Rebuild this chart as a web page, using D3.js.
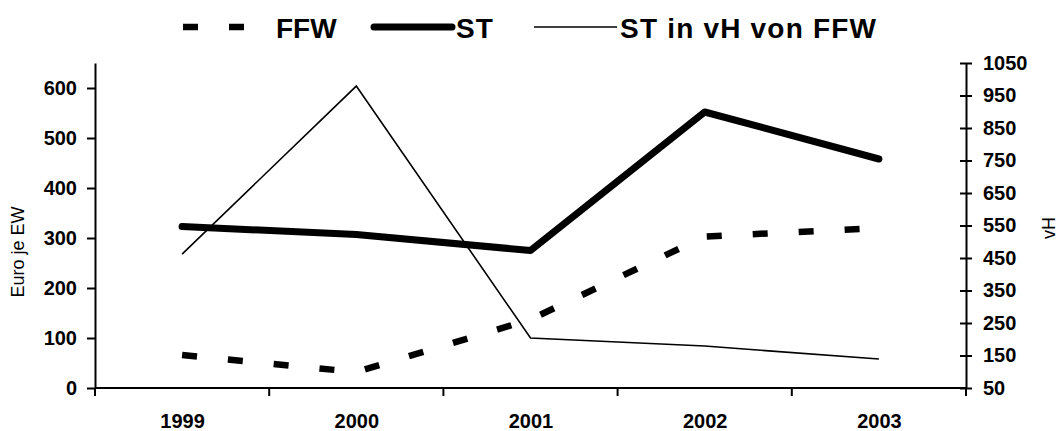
<!DOCTYPE html>
<html>
<head>
    <meta charset="utf-8">
    <title>FFW / ST</title>
    <script src="https://d3js.org/d3.v7.min.js"></script>
    <style>
        body { margin: 0; background: #fff; }
        svg text { font-family: "Liberation Sans", Arial, sans-serif; }
    </style>
</head>
<body>
    <script>
        // data
        const years = ["1999", "2000", "2001", "2002", "2003"];
        const ffw = [66, 32, 137, 303, 320];        // Euro je EW
        const st = [323, 307, 275, 552, 458];       // Euro je EW
        const stInVh = [462, 979, 204, 179, 139];   // vH (right axis)
        const leftTicks = [0, 100, 200, 300, 400, 500, 600];
        const rightTicks = [50, 150, 250, 350, 450, 550, 650, 750, 850, 950, 1050];

        const width = 1060, height = 431;
        const plotLeft = 95, plotRight = 966, plotTop = 63, plotBottom = 388;

        const svg = d3.select("body").append("svg")
            .attr("width", width)
            .attr("height", height);

        const x = d3.scaleBand().domain(years).range([plotLeft, plotRight]).padding(0);
        const cx = d => x(d) + x.bandwidth() / 2;
        const yL = d3.scaleLinear().domain([0, 650]).range([plotBottom, plotTop]);
        const yR = d3.scaleLinear().domain([50, 1050]).range([plotBottom, plotTop]);

        // left axis
        const axL = svg.append("g")
            .attr("transform", `translate(${plotLeft},0)`)
            .call(d3.axisLeft(yL).tickValues(leftTicks).tickFormat(d3.format("d"))
                .tickSize(8).tickPadding(10).tickSizeOuter(0));

        // right axis, ticks crossing the line
        const axR = svg.append("g")
            .attr("transform", `translate(${plotRight},0)`)
            .call(d3.axisRight(yR).tickValues(rightTicks).tickFormat(d3.format("d"))
                .tickSize(6).tickPadding(11).tickSizeOuter(0));
        axR.selectAll(".tick line").attr("x1", -6);

        // bottom axis: labels at category centres, ticks at boundaries
        const axB = svg.append("g")
            .attr("transform", `translate(0,${plotBottom})`)
            .call(d3.axisBottom(d3.scalePoint().domain(years).range([cx(years[0]), cx(years[years.length - 1])]))
                .tickSize(0).tickPadding(26).tickSizeOuter(0));
        axB.select(".domain").attr("d", `M${plotLeft},0H${plotRight}`);
        axB.selectAll(".bound")
            .data(years.map(d => x(d)).concat([plotRight]))
            .enter().append("line")
            .attr("class", "bound")
            .attr("x1", d => d).attr("x2", d => d)
            .attr("y1", 0).attr("y2", 8)
            .attr("stroke", "#000").attr("stroke-width", 2);

        [axL, axR, axB].forEach(a => {
            a.selectAll(".domain").attr("stroke", "#000").attr("stroke-width", 2);
            a.selectAll(".tick line").attr("stroke", "#000").attr("stroke-width", 2);
            a.selectAll("text")
                .attr("fill", "#000")
                .style("font-size", "20px")
                .style("font-weight", "bold");
        });

        // axis titles
        svg.append("text")
            .attr("transform", "translate(24,252) rotate(-90)")
            .attr("text-anchor", "middle")
            .style("font-size", "18px")
            .text("Euro je EW");
        svg.append("text")
            .attr("transform", "translate(1055,228) rotate(-90)")
            .attr("text-anchor", "middle")
            .style("font-size", "18px")
            .text("vH");

        // lines
        const lineL = d3.line().x((d, i) => cx(years[i])).y(d => yL(d));
        const lineR = d3.line().x((d, i) => cx(years[i])).y(d => yR(d));

        svg.append("path")
            .datum(stInVh)
            .attr("d", lineR)
            .attr("fill", "none")
            .attr("stroke", "#000")
            .attr("stroke-width", 1.6);

        svg.append("path")
            .datum(ffw)
            .attr("d", lineL)
            .attr("fill", "none")
            .attr("stroke", "#000")
            .attr("stroke-width", 6.5)
            .attr("stroke-dasharray", "15,31");

        svg.append("path")
            .datum(st)
            .attr("d", lineL)
            .attr("fill", "none")
            .attr("stroke", "#000")
            .attr("stroke-width", 7)
            .attr("stroke-linecap", "round")
            .attr("stroke-linejoin", "round");

        // legend
        const legend = [
            { name: "FFW", x1: 183, x2: 245, tx: 276, w: 6.5, dash: "15,31", cap: "butt", ls: 0 },
            { name: "ST", x1: 374, x2: 452, tx: 456, w: 7, dash: null, cap: "round", ls: 1 },
            { name: "ST in vH von FFW", x1: 534, x2: 617, tx: 620, w: 1.6, dash: null, cap: "butt", ls: 1.2 }
        ];
        const lg = svg.append("g");
        lg.selectAll("line")
            .data(legend)
            .enter().append("line")
            .attr("x1", d => d.x1).attr("x2", d => d.x2)
            .attr("y1", 27).attr("y2", 27)
            .attr("stroke", "#000")
            .attr("stroke-width", d => d.w)
            .attr("stroke-dasharray", d => d.dash)
            .attr("stroke-linecap", d => d.cap);
        lg.selectAll("text")
            .data(legend)
            .enter().append("text")
            .attr("x", d => d.tx)
            .attr("y", 38)
            .style("font-size", "28px")
            .style("font-weight", "bold")
            .style("letter-spacing", d => d.ls + "px")
            .text(d => d.name);
    </script>
</body>
</html>
